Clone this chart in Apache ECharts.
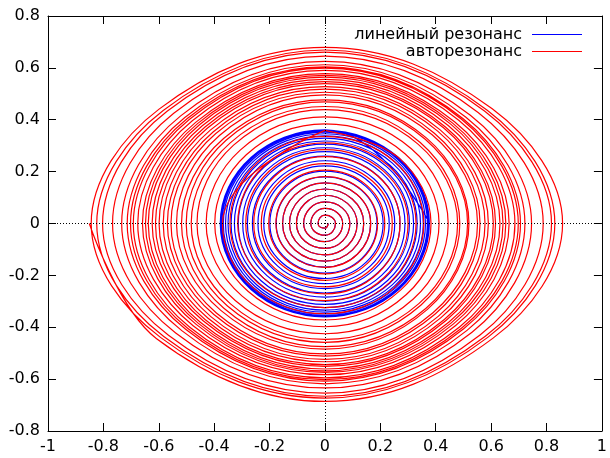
<!DOCTYPE html>
<html><head><meta charset="utf-8">
<script src="https://cdn.jsdelivr.net/npm/echarts@6/dist/echarts.min.js"></script>
<style>html,body{margin:0;padding:0;background:#fff}#c{width:610px;height:458px}</style>
</head><body><div id="c"></div>
<script>
const seriesNames = ['линейный резонанс', 'авторезонанс'];
const xRange = [-1, 1, 0.2];
const yRange = [-0.8, 0.8, 0.2];

// linear resonance phase trajectory: axis crossings, one quarter turn per point
const blueSpiral = [
[0.012,0],[0,-0.018],[-0.025,0],[0,0.032],
[0.038,0],[0,-0.045],[-0.051,0],[0,0.058],
[0.064,0],[0,-0.070],[-0.077,0],[0,0.083],
[0.090,0],[0,-0.096],[-0.103,0],[0,0.109],
[0.116,0],[0,-0.121],[-0.128,0],[0,0.133],
[0.140,0],[0,-0.145],[-0.153,0],[0,0.157],
[0.165,0],[0,-0.168],[-0.176,0],[0,0.180],
[0.188,0],[0,-0.191],[-0.199,0],[0,0.202],
[0.210,0],[0,-0.212],[-0.221,0],[0,0.222],
[0.232,0],[0,-0.232],[-0.242,0],[0,0.242],
[0.252,0],[0,-0.251],[-0.262,0],[0,0.260],
[0.271,0],[0,-0.268],[-0.280,0],[0,0.277],
[0.289,0],[0,-0.284],[-0.297,0],[0,0.292],
[0.305,0],[0,-0.299],[-0.313,0],[0,0.306],
[0.320,0],[0,-0.312],[-0.327,0],[0,0.318],
[0.333,0],[0,-0.324],[-0.339,0],[0,0.329],
[0.345,0],[0,-0.334],[-0.350,0],[0,0.338],
[0.355,0],[0,-0.342],[-0.359,0],[0,0.346],
[0.363,0],[0,-0.349],[-0.367,0],[0,0.352],
[0.370,0],[0,-0.355],[-0.372,0],[0,0.357],
[0.374,0],[0,-0.358],[-0.376,0],[0,0.359],
[0.377,0],[0,-0.360],[-0.378,0],[0,0.361],
[0.378,0]
];

// autoresonance, inner turns: axis crossings, one quarter turn per point
const redInner = [
[0.012,0],[0,-0.018],[-0.025,0],[0,0.032],
[0.038,0],[0,-0.045],[-0.051,0],[0,0.058],
[0.064,0],[0,-0.070],[-0.077,0],[0,0.083],
[0.090,0],[0,-0.096],[-0.103,0],[0,0.109],
[0.116,0],[0,-0.121],[-0.128,0],[0,0.133],
[0.140,0],[0,-0.145],[-0.153,0],[0,0.157],
[0.165,0],[0,-0.169],[-0.177,0],[0,0.181],
[0.190,0],[0,-0.194],[-0.203,0],[0,0.206],
[0.216,0],[0,-0.219],[-0.230,0],[0,0.231],
[0.243,0],[0,-0.244],[-0.257,0],[0,0.258],
[0.271,0],[0,-0.271],[-0.286,0],[0,0.285],
[0.300,0],[0,-0.297],[-0.315,0],[0,0.311],
[0.329,0],[0,-0.324],[-0.343,0],[0,0.336],
[0.357,0],[0,-0.348],[-0.370,0],[0,0.359]
];

// autoresonance, outer turns: one eighth turn per point
const redOuter = [
[0,0.359],[0.268,0.252],
[0.383,0],[0.273,-0.257],[0,-0.372],[-0.278,-0.261],[-0.398,0],[-0.284,0.265],[0,0.384],[0.289,0.269],
[0.412,0],[0.294,-0.274],[0,-0.398],[-0.300,-0.279],[-0.429,0],[-0.306,0.283],[0,0.411],[0.312,0.288],
[0.445,0],[0.318,-0.292],[0,-0.425],[-0.324,-0.297],[-0.462,0],[-0.330,0.302],[0,0.439],[0.336,0.306],
[0.479,0],[0.339,-0.309],[0,-0.447],[-0.341,-0.310],[-0.483,0],[-0.342,0.311],[0,0.451],[0.344,0.312],
[0.487,0],[0.347,-0.314],[0,-0.458],[-0.352,-0.318],[-0.501,0],[-0.357,0.321],[0,0.469],[0.362,0.325],
[0.515,0],[0.365,-0.327],[0,-0.475],[-0.365,-0.327],[-0.518,0],[-0.366,0.328],[0,0.477],[0.367,0.329],
[0.520,0],[0.370,-0.331],[0,-0.484],[-0.376,-0.335],[-0.536,0],[-0.381,0.339],[0,0.496],[0.387,0.342],
[0.551,0],[0.390,-0.344],[0,-0.503],[-0.392,-0.345],[-0.556,0],[-0.394,0.347],[0,0.506],[0.395,0.348],
[0.560,0],[0.398,-0.349],[0,-0.511],[-0.401,-0.351],[-0.569,0],[-0.404,0.353],[0,0.518],[0.407,0.356],
[0.578,0],[0.410,-0.357],[0,-0.524],[-0.412,-0.359],[-0.584,0],[-0.414,0.360],[0,0.528],[0.416,0.361],
[0.590,0],[0.419,-0.363],[0,-0.533],[-0.422,-0.365],[-0.599,0],[-0.425,0.367],[0,0.539],[0.428,0.369],
[0.608,0],[0.431,-0.370],[0,-0.544],[-0.432,-0.371],[-0.612,0],[-0.433,0.372],[0,0.547],[0.435,0.372],
[0.616,0],[0.437,-0.374],[0,-0.551],[-0.440,-0.375],[-0.624,0],[-0.443,0.377],[0,0.556],[0.445,0.378],
[0.632,0],[0.448,-0.380],[0,-0.561],[-0.450,-0.381],[-0.638,0],[-0.452,0.382],[0,0.564],[0.454,0.383],
[0.643,0],[0.455,-0.384],[0,-0.568],[-0.457,-0.385],[-0.648,0],[-0.459,0.386],[0,0.571],[0.461,0.387],
[0.653,0],[0.463,-0.388],[0,-0.574],[-0.465,-0.389],[-0.659,0],[-0.467,0.390],[0,0.578],[0.469,0.391],
[0.665,0],[0.472,-0.393],[0,-0.583],[-0.476,-0.394],[-0.676,0],[-0.479,0.396],[0,0.590],[0.483,0.398],
[0.686,0],[0.486,-0.399],[0,-0.595],[-0.488,-0.400],[-0.692,0],[-0.490,0.401],[0,0.599],[0.492,0.403],
[0.698,0],[0.494,-0.403],[0,-0.602],[-0.496,-0.404],[-0.702,0],[-0.497,0.405],[0,0.604],[0.498,0.405],
[0.706,0],[0.501,-0.406],[0,-0.608],[-0.503,-0.408],[-0.714,0],[-0.506,0.409],[0,0.612],[0.509,0.410],
[0.722,0],[0.513,-0.412],[0,-0.618],[-0.517,-0.413],[-0.734,0],[-0.521,0.415],[0,0.625],[0.525,0.417],
[0.746,0],[0.531,-0.419],[0,-0.634],[-0.539,-0.422],[-0.767,0],[-0.546,0.425],[0,0.645],[0.553,0.428],
[0.788,0],[0.560,-0.430],[0,-0.654],[-0.565,-0.431],[-0.803,0],[-0.570,0.433],[0,0.661],[0.576,0.434],
[0.818,0],[0.579,-0.435],[0,-0.666],[-0.582,-0.436],[-0.824,0],[-0.584,0.436],[0,0.669],[0.586,0.437],
[0.830,0],[0.589,-0.438],[0,-0.673],[-0.594,-0.439],[-0.844,0],[-0.599,0.441],[0,0.679],[0.604,0.442],
[0.858,0],[0.607,-0.442],[0,-0.686],[-0.609,-0.443],[-0.851,0]
];

const FONT = 'DejaVu Sans';
function axis(pos, range, showLabel) {
  return {
    type: 'value', position: pos, min: range[0], max: range[1], interval: range[2], gridIndex: 0,
    axisLine: {show: true, onZero: false, lineStyle: {color: '#000', width: 1}},
    axisTick: {show: true, inside: true, length: 8, lineStyle: {color: '#000', width: 1}},
    splitLine: {show: false},
    axisLabel: {show: showLabel, color: '#000', fontFamily: FONT, fontSize: 16, margin: 8}
  };
}
function spiral(name, data, color, smooth) {
  return {
    name: name, type: 'line', data: data, smooth: smooth, symbol: 'none', showSymbol: false,
    xAxisIndex: 0, yAxisIndex: 0, silent: true, animation: false,
    lineStyle: {color: color, width: 1.2}, itemStyle: {color: color}
  };
}
const chart = echarts.init(document.getElementById('c'), null, {renderer: 'canvas'});
chart.setOption({
  animation: false,
  backgroundColor: '#fff',
  grid: {left: 48, right: 8, top: 16, bottom: 27, containLabel: false},
  xAxis: [axis('bottom', xRange, true), axis('top', xRange, false)],
  yAxis: [axis('left', yRange, true), axis('right', yRange, false)],
  legend: {
    data: seriesNames, orient: 'vertical', right: 28, top: 26, align: 'right', padding: 0,
    icon: 'rect', itemWidth: 50, itemHeight: 1, itemGap: 0, selectedMode: false,
    textStyle: {fontFamily: FONT, fontSize: 16, color: '#000', lineHeight: 17, padding: [0, 5, 0, 0]}
  },
  series: [
    spiral(seriesNames[0], blueSpiral, '#0000ff', 0.55),
    spiral(seriesNames[1], redInner, '#ff0000', 0.55),
    spiral(seriesNames[1], redOuter, '#ff0000', 0.375),
    {
      type: 'line', data: [], silent: true, animation: false, xAxisIndex: 0, yAxisIndex: 0,
      markLine: {
        silent: true, animation: false, symbol: ['none', 'none'], label: {show: false},
        lineStyle: {color: '#000', width: 1, type: [1, 2]},
        data: [{xAxis: 0}, {yAxis: 0}]
      }
    }
  ]
});
</script>
</body></html>
